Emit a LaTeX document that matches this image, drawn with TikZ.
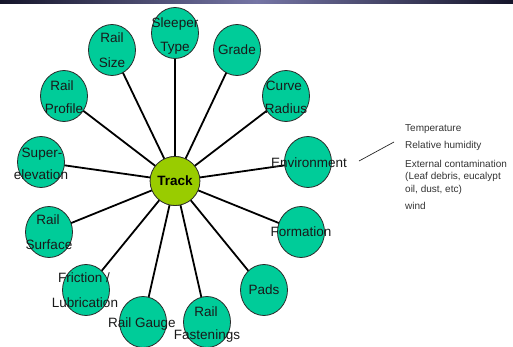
\documentclass[tikz,border=0pt]{standalone}
\usepackage{fontspec}
\setmainfont{Liberation Sans}
\usetikzlibrary{shapes.geometric,backgrounds}
\definecolor{bubble}{HTML}{00CC99}
\definecolor{hub}{HTML}{99CC00}
\definecolor{rim}{HTML}{2A2A2A}
\definecolor{note}{HTML}{333333}
\definecolor{bardark}{HTML}{15152A}
\definecolor{barmid}{HTML}{7575A5}
\tikzset{
  bub/.style={ellipse, draw=rim, line width=0.8pt, fill=bubble, minimum width=47pt, minimum height=51pt, inner sep=0pt},
  hubnode/.style={ellipse, draw=rim, line width=0.8pt, fill=hub, minimum width=46pt, minimum height=49pt, inner sep=0pt, font=\fontsize{13.5}{16}\selectfont\bfseries},
  lbl/.style={inner sep=0pt, text height=9.7pt, text depth=0pt, font=\fontsize{13.5}{16}\selectfont, text=black!90},
  notes/.style={inner sep=0pt, anchor=north west, align=left, font=\fontsize{10}{12.5}\selectfont, text=note},
  spoke/.style={line width=1.8pt, black}
}
\begin{document}
\begin{tikzpicture}[x=1pt,y=-1pt]
\useasboundingbox (0,0) rectangle (513,347);
\clip (0,0) rectangle (513,347);
\shade[left color=bardark, right color=bardark, middle color=barmid, shading angle=90] (0,0) rectangle (513,3.5);
% bubbles
\node[hubnode] (track) at (175,181) {};
\node[bub] (sleeper) at (175,33) {};
\node[bub] (size) at (112,50) {};
\node[bub] (profile) at (64,96) {};
\node[bub] (super) at (41,162) {};
\node[bub] (surface) at (49,232) {};
\node[bub] (friction) at (86,290) {};
\node[bub] (gauge) at (143,322) {};
\node[bub] (fast) at (207,322) {};
\node[bub] (pads) at (264,290) {};
\node[bub] (formation) at (301,232) {};
\node[bub] (env) at (308,162) {};
\node[bub] (curve) at (286,96) {};
\node[bub] (grade) at (237,50) {};
\begin{scope}[on background layer]
\foreach \n in {sleeper,size,profile,super,surface,friction,gauge,fast,pads,formation,env,curve,grade}
  \draw[spoke] (track.center) -- (\n.center);
\end{scope}
\node[hubnode] at (track) {Track};
% labels
\node[lbl] (t1) at (175,23) {Sleeper};
\node[lbl] (t2) at (175,47) {Type};
\node[lbl] (t3) at (112,38) {Rail};
\node[lbl] (t4) at (112,63) {Size};
\node[lbl] (t5) at (62,86) {Rail};
\node[lbl] (t6) at (64,109) {Profile};
\node[lbl] (t7) at (42,153) {Super-};
\node[lbl] (t8) at (41,175) {elevation};
\node[lbl] (t9) at (48,220) {Rail};
\node[lbl] (t10) at (49,245) {Surface};
\node[lbl] (t11) at (84,278) {Friction /};
\node[lbl] (t12) at (85,303) {Lubrication};
\node[lbl] (t13) at (142,323) {Rail Gauge};
\node[lbl] (t14) at (206,312) {Rail};
\node[lbl] (t15) at (207,335) {Fastenings};
\node[lbl] (t16) at (264,290) {Pads};
\node[lbl] (t17) at (301,232) {Formation};
\node[lbl] (t18) at (309,163) {Environment};
\node[lbl] (t19) at (284,86) {Curve};
\node[lbl] (t20) at (286,109) {Radius};
\node[lbl] (t21) at (237,50) {Grade};
% environment notes
\coordinate (ca) at (359,161);
\coordinate (cb) at (394,142);
\draw[line width=0.7pt, black!85] (ca) -- (cb);
\node[notes] (n1) at (405,124) {Temperature};
\node[notes] (n2) at (405,141) {Relative humidity};
\node[notes] (n3) at (405,160) {External contamination\\(Leaf debris, eucalypt\\oil, dust, etc)};
\node[notes] (n4) at (405,202) {wind};
\end{tikzpicture}
\end{document}
